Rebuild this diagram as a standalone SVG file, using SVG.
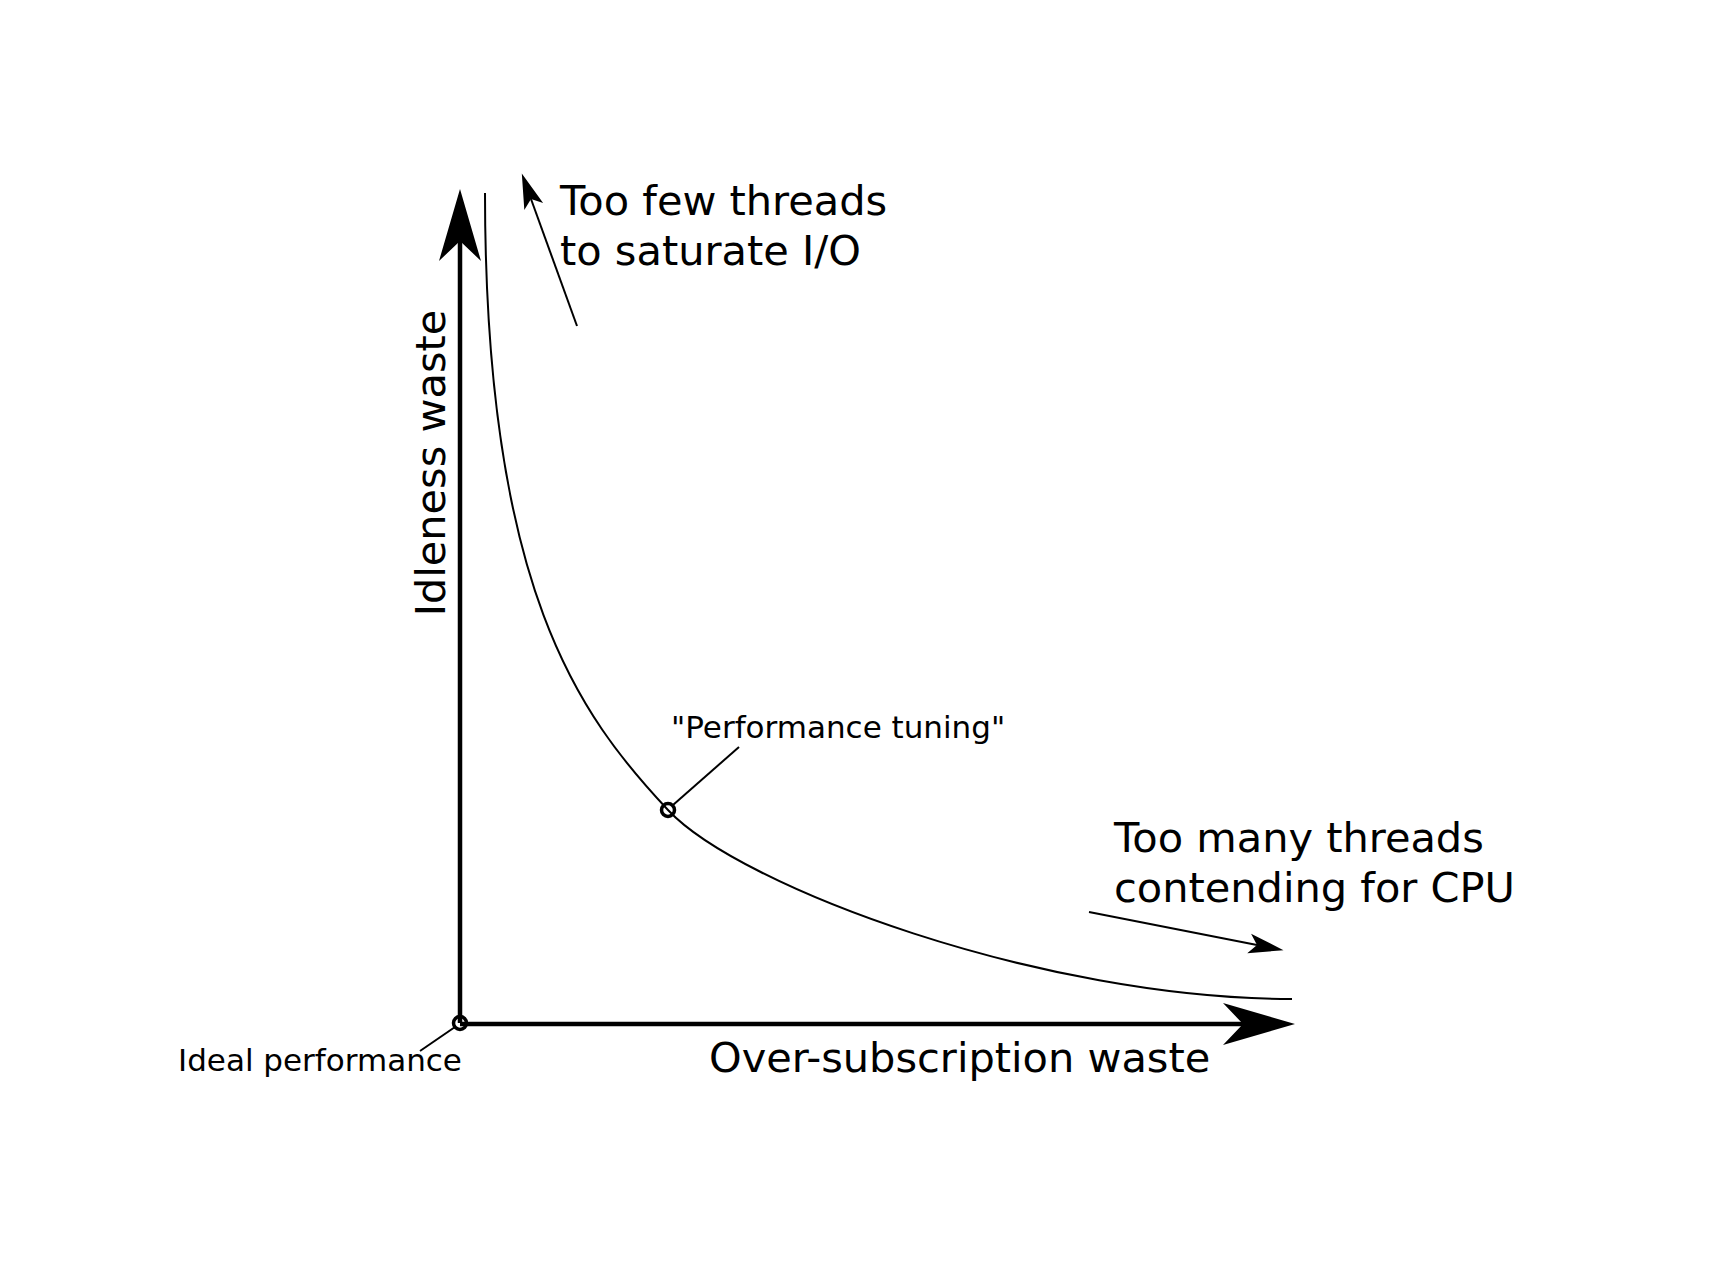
<svg xmlns="http://www.w3.org/2000/svg" width="1710" height="1261" viewBox="0 0 1710 1261">
  <style>
    .big { font-family: "DejaVu Sans", sans-serif; font-size: 41.5px; fill: #000; }
    .small { font-family: "DejaVu Sans", sans-serif; font-size: 31px; fill: #000; }
    .axis { stroke: #000; stroke-width: 4.5; fill: none; }
    .thin { stroke: #000; stroke-width: 2; fill: none; }
    .ring { stroke: #000; stroke-width: 3.5; fill: none; }
  </style>
  <defs>
    <marker id="bigArrow" markerUnits="userSpaceOnUse" orient="auto" refX="0" refY="0" markerWidth="80" markerHeight="50" viewBox="-25 -25 80 50" overflow="visible">
      <path d="M52,0 L-20,-21 L0,0 L-20,21 Z" fill="#000"/>
    </marker>
    <marker id="smallArrow" markerUnits="userSpaceOnUse" orient="auto" refX="0" refY="0" markerWidth="40" markerHeight="24" viewBox="-12 -12 40 24" overflow="visible">
      <path d="M27,0 L-8,-10 L0,0 L-8,10 Z" fill="#000"/>
    </marker>
  </defs>
  <rect width="1710" height="1261" fill="#fff"/>

  <g id="connectors">
    <line id="y-axis" class="axis" x1="460" y1="1023" x2="460" y2="241" marker-end="url(#bigArrow)"/>
    <line id="x-axis" class="axis" x1="460" y1="1024" x2="1243" y2="1024" marker-end="url(#bigArrow)"/>
    <path id="curve" class="thin" d="M485,193 C485,590 580,716 668,810 C740,887 1042,999 1292,999"/>
    <line id="few-arrow" class="thin" x1="577" y1="326" x2="531" y2="199" marker-end="url(#smallArrow)"/>
    <line id="many-arrow" class="thin" x1="1089" y1="912" x2="1257" y2="945" marker-end="url(#smallArrow)"/>
    <line id="tuning-leader" class="thin" x1="673" y1="805" x2="739" y2="747"/>
    <line id="ideal-leader" class="thin" x1="455" y1="1027" x2="420" y2="1051"/>
  </g>

  <g id="node-ideal">
    <circle class="ring" cx="460" cy="1023" r="6.5"/>
    <text class="small" x="178" y="1071">Ideal performance</text>
  </g>
  <g id="node-tuning">
    <circle class="ring" cx="668" cy="810" r="6.5"/>
    <text class="small" x="671" y="738">"Performance tuning"</text>
  </g>
  <g id="label-idleness">
    <text class="big" transform="translate(445,463) rotate(-90)" text-anchor="middle">Idleness waste</text>
  </g>
  <g id="label-oversubscription">
    <text class="big" x="709" y="1072">Over-subscription waste</text>
  </g>
  <g id="label-too-few">
    <text class="big" x="560" y="215">Too few threads</text>
    <text class="big" x="560" y="265">to saturate I/O</text>
  </g>
  <g id="label-too-many">
    <text class="big" x="1114" y="852">Too many threads</text>
    <text class="big" x="1114" y="902">contending for CPU</text>
  </g>
</svg>
